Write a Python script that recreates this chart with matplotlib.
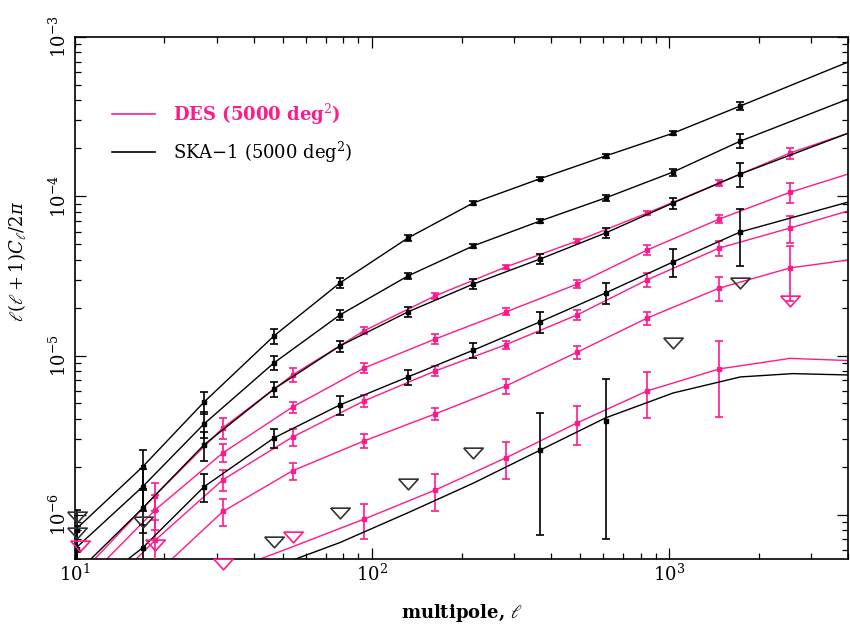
"""
Angular power spectra, DES vs SKA-1 (5000 deg^2)
"""
import numpy as np
import matplotlib
matplotlib.use('Agg')
import matplotlib.pyplot as plt

plt.rcParams['font.family'] = ['DejaVu Serif']
plt.rcParams['mathtext.fontset'] = 'dejavuserif'

PINK = '#ff1a8c'

# --- SKA-1 (black) ---
ell_ska = [10, 16.9, 27.2, 46.8, 78, 132, 219, 368, 610, 1030, 1734, 4000]
ell_ska_bins = [10.2, 16.9, 27.2, 46.8, 78, 132, 219, 368, 610, 1030, 1734]
ska_cl = [
    [8.0e-7, 2.0e-6, 5.1e-6, 1.33e-5, 2.86e-5, 5.47e-5, 9.08e-5, 1.29e-4, 1.79e-4, 2.49e-4, 3.69e-4, 6.97e-4],
    [6.1e-7, 1.50e-6, 3.72e-6, 9.0e-6, 1.80e-5, 3.16e-5, 4.88e-5, 7.0e-5, 9.76e-5, 1.42e-4, 2.22e-4, 4.08e-4],
    [4.2e-7, 1.10e-6, 2.75e-6, 6.17e-6, 1.15e-5, 1.88e-5, 2.81e-5, 4.04e-5, 5.88e-5, 9.08e-5, 1.38e-4, 2.49e-4],
    [2.9e-7, 6.2e-7, 1.50e-6, 3.04e-6, 4.90e-6, 7.34e-6, 1.08e-5, 1.63e-5, 2.47e-5, 3.87e-5, 5.97e-5, 9.2e-5],
]
# lowest SKA curve has its own sampling (flattens at high l)
ell_ska5 = [46.8, 78, 132, 219, 368, 610, 1030, 1734, 2600, 4000]
ska5_cl = [4.7e-7, 6.7e-7, 1.03e-6, 1.58e-6, 2.55e-6, 4.06e-6, 5.82e-6, 7.34e-6, 7.7e-6, 7.55e-6]
ska5_err_ell = [368, 610]
ska5_err_cl = [2.55e-6, 3.9e-6]
ska5_err = [1.8e-6, 3.2e-6]
# fractional errors at the SKA bins
ska_frac = [
    [0.35, 0.27, 0.16, 0.11, 0.07, 0.04, 0.03, 0.025, 0.025, 0.03, 0.06],
    [0.40, 0.30, 0.18, 0.10, 0.07, 0.04, 0.03, 0.03, 0.04, 0.05, 0.10],
    [0.40, 0.30, 0.21, 0.11, 0.08, 0.07, 0.07, 0.07, 0.07, 0.08, 0.17],
    [np.nan, 0.40, 0.20, 0.14, 0.13, 0.11, 0.11, 0.15, 0.15, 0.20, 0.39],
]
ska_tri_ell = [10.2, 10.2, 16.9, 46.8, 78, 132, 219, 1030, 1734]
ska_tri_cl = [9.7e-7, 7.7e-7, 9.0e-7, 6.8e-7, 1.03e-6, 1.56e-6, 2.45e-6, 1.2e-5, 2.86e-5]

# --- DES (pink) ---
ell_des = [10, 18.6, 31.5, 54, 94, 163, 282, 490, 843, 1472, 2550, 4000]
ell_des_bins = [18.6, 31.5, 54, 94, 163, 282, 490, 843, 1472, 2550]
des_cl = [
    [3.9e-7, 1.32e-6, 3.52e-6, 7.55e-6, 1.43e-5, 2.37e-5, 3.60e-5, 5.24e-5, 7.85e-5, 1.21e-4, 1.87e-4, 2.49e-4],
    [3.3e-7, 1.07e-6, 2.45e-6, 4.75e-6, 8.35e-6, 1.27e-5, 1.88e-5, 2.81e-5, 4.60e-5, 7.19e-5, 1.06e-4, 1.38e-4],
    [2.2e-7, 6.9e-7, 1.66e-6, 3.08e-6, 5.19e-6, 8.0e-6, 1.17e-5, 1.80e-5, 2.99e-5, 4.73e-5, 6.32e-5, 8.09e-5],
    [1.2e-7, 4.2e-7, 1.05e-6, 1.89e-6, 2.91e-6, 4.30e-6, 6.44e-6, 1.05e-5, 1.72e-5, 2.65e-5, 3.55e-5, 3.98e-5],
    [1.0e-7, 2.0e-7, 4.3e-7, 6.3e-7, 9.4e-7, 1.43e-6, 2.28e-6, 3.78e-6, 6.0e-6, 8.24e-6, 9.6e-6, 9.3e-6],
]
des_frac = [
    [0.20, 0.15, 0.10, 0.05, 0.04, 0.03, 0.03, 0.03, 0.04, 0.08],
    [0.25, 0.13, 0.08, 0.07, 0.07, 0.05, 0.06, 0.07, 0.06, 0.14],
    [0.35, 0.15, 0.12, 0.09, 0.07, 0.06, 0.07, 0.10, 0.11, 0.19],
    [np.nan, 0.19, 0.12, 0.10, 0.09, 0.11, 0.10, 0.09, 0.17, 0.38],
    [np.nan, np.nan, np.nan, 0.25, 0.26, 0.26, 0.27, 0.32, 0.50, np.nan],
]
des_tri_ell = [10.4, 18.6, 31.5, 54, 2550]
des_tri_cl = [6.4e-7, 6.5e-7, 4.9e-7, 7.3e-7, 2.2e-5]

tri = [(-1, 0.55), (1, 0.55), (0, -0.55), (-1, 0.55)]

fig = plt.figure(figsize=(8.5, 6.32), dpi=100)
ax = fig.add_axes([0.088, 0.1155, 0.91, 0.826])
ax.set_xscale('log')
ax.set_yscale('log')


def draw_set(ell, cls, bins, fracs, color, z):
    for cl, frac in zip(cls, fracs):
        cl = np.asarray(cl)
        ax.plot(ell, cl, '-', color=color, lw=1.0, zorder=z)
        frac = np.asarray(frac)
        if len(bins) == len(ell) - 1:
            v = cl[:len(bins)]
        else:
            v = cl[1:len(bins) + 1]
        ok = np.isfinite(frac)
        ax.errorbar(np.asarray(bins)[ok], v[ok], yerr=(v * frac)[ok],
                    fmt='s', ms=2.5, color=color, ecolor=color,
                    elinewidth=1.2, capsize=2.6, capthick=1.2, zorder=z + 1)


# DES first, SKA on top
draw_set(ell_des, des_cl, ell_des_bins, des_frac, PINK, 2)
draw_set(ell_ska, ska_cl, ell_ska_bins, ska_frac, 'black', 4)
ax.plot(ell_ska5, ska5_cl, '-', color='black', lw=1.0, zorder=4)
ax.errorbar(ska5_err_ell, ska5_err_cl, yerr=ska5_err, fmt='s', ms=2.5,
            color='black', elinewidth=1.2, capsize=2.6, capthick=1.2, zorder=5)

# upper limits
ax.plot(ska_tri_ell, ska_tri_cl, ls='none', marker=tri, ms=14, mfc='none',
        mec='#333333', mew=1.2, zorder=6, clip_on=False)
ax.plot(des_tri_ell, des_tri_cl, ls='none', marker=tri, ms=14, mfc='none',
        mec=PINK, mew=1.2, zorder=6, clip_on=False)

ax.set_xlim(10, 4000)
ax.set_ylim(5.28e-7, 1e-3)

ax.tick_params(which='both', direction='in', top=True, right=True,
               labelsize=13, width=0.9)
ax.tick_params(which='major', length=8)
ax.tick_params(which='minor', length=4.5)
ax.tick_params(axis='y', labelrotation=90)
for lab in ax.get_yticklabels():
    lab.set_va('center')
for s in ax.spines.values():
    s.set_linewidth(1.2)

ax.set_xlabel(r'multipole, $\ell$', fontsize=13, fontweight='bold', labelpad=12)
ax.set_ylabel(r'$\ell(\ell+1)C_\ell/2\pi$', fontsize=13)
ax.yaxis.set_label_coords(-0.06, 0.57)

h1, = ax.plot([], [], color=PINK, lw=1.2)
h2, = ax.plot([], [], color='black', lw=1.2)
leg = ax.legend([h1, h2], [r'DES (5000 deg$^2$)', r'SKA$-$1 (5000 deg$^2$)'],
                loc='upper left', bbox_to_anchor=(0.027, 0.907), frameon=False,
                fontsize=13, handlelength=2.4, handletextpad=1.0, labelspacing=0.7)
t1, t2 = leg.get_texts()
t1.set_color(PINK)
t1.set_fontweight('bold')

fig.savefig('out.png', dpi=100)
